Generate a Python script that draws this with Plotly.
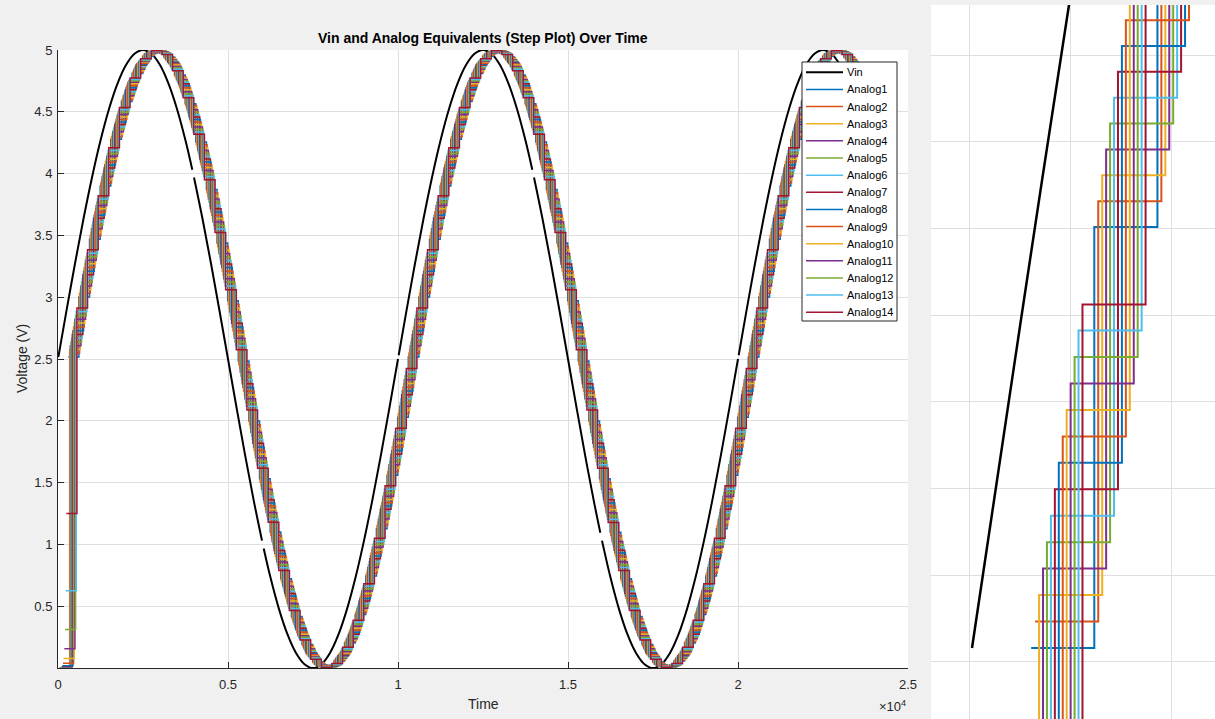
import numpy as np
import plotly.graph_objects as go

# ---------------- data ----------------
# Vin readings (time, volts); None marks the small breaks seen in the black trace
vin_t = [10, 250, 500, 750, 1000, 1250, 1500, 1750, 2000, 2250, 2500, 2750, 3000, 3250, 3500, 3750, 3950, None,
         4000, 4250, 4500, 4750, 5000, 5250, 5500, 5750, 6000, None,
         6050, 6250, 6500, 6750, 7000, 7250, 7500, 7750, 8000, 8250, 8500, 8750, 9000, 9250, 9500, 9750, 10000, None,
         10020, 10250, 10500, 10750, 11000, 11250, 11500, 11750, 12000, 12250, 12500, 12750, 13000, 13250, 13500, 13750, 13950, None,
         14000, 14250, 14500, 14750, 15000, 15250, 15500, 15750, 15950, None,
         16000, 16250, 16500, 16750, 17000, 17250, 17500, 17750, 18000, 18250, 18500, 18750, 19000, 19250, 19500, 19750, 20000, None,
         20020, 20250, 20500, 20750, 21000, 21250, 21500, 21750, 22000, 22250, 22500, 22750, 23000, 23250, 23500]
vin_v = [2.516, 2.891, 3.273, 3.635, 3.969, 4.268, 4.523, 4.728, 4.878, 4.969, 5.000, 4.969, 4.878, 4.728, 4.523, 4.268, 4.032, None,
         3.969, 3.635, 3.273, 2.891, 2.500, 2.109, 1.727, 1.365, 1.031, None,
         0.968, 0.732, 0.477, 0.272, 0.122, 0.031, 0.000, 0.031, 0.122, 0.272, 0.477, 0.732, 1.031, 1.365, 1.727, 2.109, 2.500, None,
         2.531, 2.891, 3.273, 3.635, 3.969, 4.268, 4.523, 4.728, 4.878, 4.969, 5.000, 4.969, 4.878, 4.728, 4.523, 4.268, 4.032, None,
         3.969, 3.635, 3.273, 2.891, 2.500, 2.109, 1.727, 1.365, 1.095, None,
         1.031, 0.732, 0.477, 0.272, 0.122, 0.031, 0.000, 0.031, 0.122, 0.272, 0.477, 0.732, 1.031, 1.365, 1.727, 2.109, 2.500, None,
         2.531, 2.891, 3.273, 3.635, 3.969, 4.268, 4.523, 4.728, 4.878, 4.969, 5.000, 4.969, 4.878, 4.728, 4.523]

analog_names = ["Analog1", "Analog2", "Analog3", "Analog4", "Analog5", "Analog6", "Analog7",
                "Analog8", "Analog9", "Analog10", "Analog11", "Analog12", "Analog13", "Analog14"]
# level each channel shows before its first held sample (read at the left edge)
analog_startup_levels = [None, None, 0.00061, 0.00122, 0.00244, 0.00488, 0.00977,
                         0.0195, 0.0391, 0.0781, 0.156, 0.3125, 0.625, 1.25]
frame_period = 312.5      # hold time of each channel
slot = 19.53125           # spacing between consecutive channels' sampling instants
hold_delay_slots = 15     # sample -> output latency, in slots

x_tick_vals = [0, 5000, 10000, 15000, 20000, 25000]
x_tick_text = ["0", "0.5", "1", "1.5", "2", "2.5"]
y_tick_vals = [0.5, 1, 1.5, 2, 2.5, 3, 3.5, 4, 4.5, 5]
y_tick_text = ["0.5", "1", "1.5", "2", "2.5", "3", "3.5", "4", "4.5", "5"]
inset_x_grid = [0, 500, 1000]
inset_y_grid = [2.5, 2.6, 2.7, 2.8, 2.9, 3.0, 3.1, 3.2]

# ---------------- build step series ----------------
pairs = [(t, v) for t, v in zip(vin_t, vin_v) if t is not None]
vt = np.array([p[0] for p in pairs], dtype=float)
vv = np.array([p[1] for p in pairs], dtype=float)
t0, t_last = vt[0], vt[-1]

analog_x, analog_y = [], []
for j in range(len(analog_names)):
    xs, ys = [], []
    lvl = analog_startup_levels[j]
    if lvl is not None:
        xs.append(t0 + (j - 1) * slot)
        ys.append(lvl)
    n = 0
    while True:
        ts = t0 + n * frame_period + j * slot
        if ts > t_last:
            break
        xs.append(ts + hold_delay_slots * slot)
        ys.append(float(np.interp(ts, vt, vv)))
        n += 1
    xs.append(xs[-1] + frame_period)
    ys.append(ys[-1])
    analog_x.append(xs)
    analog_y.append(ys)

colors = ['#0072BD', '#D95319', '#EDB120', '#7E2F8E', '#77AC30', '#4DBEEE', '#A2142F']

W, H = 1215, 719
def px(x): return x / W
def py(y): return 1 - y / H

fig = go.Figure()
# main axes
fig.add_trace(go.Scatter(x=vin_t, y=vin_v, mode='lines', name='Vin', showlegend=False,
                         line=dict(color='black', width=2, shape='spline', smoothing=1),
                         connectgaps=False))
for j, nm in enumerate(analog_names):
    fig.add_trace(go.Scatter(x=analog_x[j], y=analog_y[j], mode='lines', name=nm, showlegend=False,
                             line=dict(color=colors[j % 7], width=1.5, shape='hv')))
# zoomed inset
fig.add_trace(go.Scatter(x=vin_t, y=vin_v, mode='lines', showlegend=False, name='Vin',
                         line=dict(color='black', width=2.5, shape='spline', smoothing=1),
                         connectgaps=False, xaxis='x2', yaxis='y2'))
for j, nm in enumerate(analog_names):
    fig.add_trace(go.Scatter(x=analog_x[j], y=analog_y[j], mode='lines', showlegend=False, name=nm,
                             line=dict(color=colors[j % 7], width=2, shape='hv'),
                             xaxis='x2', yaxis='y2'))

axcol = '#262626'
grid = '#dfdfdf'
font = "Liberation Sans, Arial, Helvetica, sans-serif"

# legend box drawn as shapes + text (MATLAB-style compact rows)
legend_labels = ['Vin'] + analog_names
legend_colors = ['black'] + [colors[j % 7] for j in range(len(analog_names))]
legend_widths = [2] + [1.5] * len(analog_names)
lg_left, lg_right, lg_top, lg_bottom = 802, 897, 62, 321
row0, row_h = 72.3, 17.14
shapes = [dict(type='rect', xref='paper', yref='paper', x0=px(lg_left), x1=px(lg_right),
               y0=py(lg_bottom), y1=py(lg_top), fillcolor='white', line=dict(color=axcol, width=1),
               layer='above')]
annotations = []
for i, (lab, col, lw) in enumerate(zip(legend_labels, legend_colors, legend_widths)):
    yc = row0 + i * row_h
    shapes.append(dict(type='line', xref='paper', yref='paper', x0=px(806), x1=px(843),
                       y0=py(yc), y1=py(yc), line=dict(color=col, width=lw), layer='above'))
    annotations.append(dict(text=lab, x=px(845), y=py(yc), xref='paper', yref='paper', showarrow=False,
                            xanchor='left', yanchor='middle', font=dict(size=11, color='black', family=font)))

annotations += [
    dict(text='<b>Vin and Analog Equivalents (Step Plot) Over Time</b>', x=px(483), y=py(38),
         xref='paper', yref='paper', showarrow=False, xanchor='center', yanchor='middle',
         font=dict(size=14, color='black', family=font)),
    dict(text='Time', x=px(483), y=py(704), xref='paper', yref='paper', showarrow=False,
         xanchor='center', yanchor='middle', font=dict(size=14, color=axcol, family=font)),
    dict(text='Voltage (V)', x=px(22), y=py(359), xref='paper', yref='paper', showarrow=False,
         xanchor='center', yanchor='middle', textangle=-90, font=dict(size=14, color=axcol, family=font)),
    dict(text='×10<sup>4</sup>', x=px(908), y=py(706), xref='paper', yref='paper', showarrow=False,
         xanchor='right', yanchor='middle', font=dict(size=13, color=axcol, family=font)),
]

fig.update_layout(
    width=W, height=H, margin=dict(l=0, r=0, t=0, b=0, pad=0, autoexpand=False),
    paper_bgcolor='#F0F0F0', plot_bgcolor='white',
    font=dict(family=font, color=axcol),
    showlegend=False,
    xaxis=dict(domain=[px(58), px(908)], range=[0, 25000], tickvals=x_tick_vals, ticktext=x_tick_text,
               ticks='inside', ticklen=6, tickcolor=axcol, showline=True, linecolor=axcol, linewidth=1,
               showgrid=True, gridcolor=grid, zeroline=False, tickfont=dict(size=13, color=axcol),
               ticklabelstandoff=4, anchor='y', automargin=False),
    yaxis=dict(domain=[py(668), py(50)], range=[0.0006, 5], tickvals=y_tick_vals, ticktext=y_tick_text,
               ticks='inside', ticklen=6, tickcolor=axcol, showline=True, linecolor=axcol, linewidth=1,
               showgrid=True, gridcolor=grid, zeroline=False, tickfont=dict(size=13, color=axcol),
               ticklabelstandoff=2, anchor='x', automargin=False),
    xaxis2=dict(domain=[px(931), 1.0], range=[-193, 1213], tickvals=inset_x_grid, showticklabels=False,
                ticks='', showline=False, showgrid=True, gridcolor=grid, zeroline=False, anchor='y2',
                automargin=False),
    yaxis2=dict(domain=[0.0, py(5)], range=[2.434, 3.258], tickvals=inset_y_grid, showticklabels=False,
                ticks='', showline=False, showgrid=True, gridcolor=grid, zeroline=False, anchor='x2',
                automargin=False),
    shapes=shapes,
    annotations=annotations,
)
fig.write_html("out.html", config={'displayModeBar': False},
               post_script="document.body.style.margin='0';document.body.style.overflow='hidden';")
